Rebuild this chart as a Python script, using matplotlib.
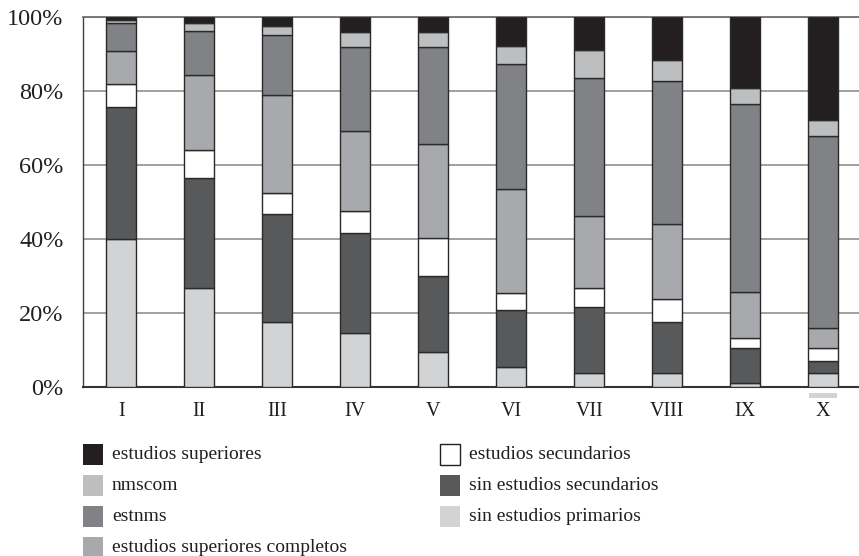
import matplotlib.pyplot as plt
from matplotlib.patches import Rectangle
import numpy as np

plt.rcParams['font.family'] = ['Liberation Serif', 'DejaVu Serif']

categorias = ['I', 'II', 'III', 'IV', 'V', 'VI', 'VII', 'VIII', 'IX', 'X']

# series de abajo hacia arriba (porcentajes)
sin_primarios = [40.0, 26.8, 17.6, 14.6, 9.5, 5.4, 3.8, 3.8, 1.1, 3.8]
sin_secundarios = [35.7, 29.7, 29.2, 27.0, 20.5, 15.4, 17.8, 13.8, 9.4, 3.2]
secundarios = [6.2, 7.6, 5.6, 6.0, 10.3, 4.6, 5.2, 6.2, 2.7, 3.5]
sup_completos = [9.0, 20.2, 26.5, 21.6, 25.4, 28.1, 19.4, 20.3, 12.5, 5.4]
estnms = [7.4, 11.9, 16.2, 22.7, 26.2, 33.8, 37.3, 38.6, 50.8, 51.9]
nmscom = [0.8, 2.2, 2.5, 4.0, 4.0, 4.9, 7.6, 5.7, 4.3, 4.4]
superiores = [0.9, 1.6, 2.4, 4.1, 4.1, 7.8, 8.9, 11.6, 19.2, 27.8]

series = [sin_primarios, sin_secundarios, secundarios, sup_completos,
          estnms, nmscom, superiores]
colores = ['#d1d3d4', '#58595b', '#ffffff', '#a7a9ac',
           '#808285', '#bcbec0', '#231f20']
etiquetas = ['sin estudios primarios', 'sin estudios secundarios',
             'estudios secundarios', 'estudios superiores completos',
             'estnms', 'nmscom', 'estudios superiores']

fig = plt.figure(figsize=(8.59, 5.56), dpi=100)
ax = fig.add_axes([83 / 859, 1 - 387 / 556, 1 - 83 / 859, 370 / 556])

x = np.arange(len(categorias))
abajo = np.zeros(len(categorias))
for vals, c in zip(series, colores):
    ax.bar(x, vals, 0.38, bottom=abajo, color=c, edgecolor='#2a2a2a',
           linewidth=1.0, zorder=3)
    abajo += np.array(vals)

# marca suelta bajo la barra X
ax.add_patch(Rectangle((9 - 0.18, -2.9), 0.36, 1.2, facecolor='#d1d3d4',
                       edgecolor='none', clip_on=False))

ax.set_xlim(-0.49, 9.46)
ax.set_ylim(0, 100)
ax.set_yticks([0, 20, 40, 60, 80, 100])
ax.set_yticklabels(['0%', '20%', '40%', '60%', '80%', '100%'])
ax.set_xticks(x)
ax.set_xticklabels(categorias)
ax.tick_params(axis='y', length=0, pad=14, labelsize=17.5, colors='#231f20')
ax.tick_params(axis='x', length=0, pad=11, labelsize=14.5, colors='#231f20')
ax.yaxis.grid(True, color='#a0a0a0', linewidth=1.4)
ax.set_axisbelow(True)

ax.spines['right'].set_visible(False)
ax.spines['top'].set_color('#707070')
ax.spines['top'].set_linewidth(1.3)
ax.spines['left'].set_color('#404040')
ax.spines['left'].set_linewidth(1.0)
ax.spines['bottom'].set_color('#333333')
ax.spines['bottom'].set_linewidth(1.5)

# leyenda en dos columnas (de arriba hacia abajo)
orden = [6, 5, 4, 3, 2, 1, 0]
for k, i in enumerate(orden):
    col, fila = k // 4, k % 4
    px = 83 + col * 357
    py = 454.5 + fila * 31
    borde = '#231f20' if colores[i] == '#ffffff' else 'none'
    fig.add_artist(Rectangle((px / 859, 1 - (py + 10.5) / 556), 20 / 859, 21 / 556,
                             facecolor=colores[i], edgecolor=borde, linewidth=1.0,
                             transform=fig.transFigure))
    fig.text((px + 29) / 859, 1 - py / 556, etiquetas[i], fontsize=14,
             va='center', ha='left', color='#231f20')

fig.savefig('out.png', dpi=100)
